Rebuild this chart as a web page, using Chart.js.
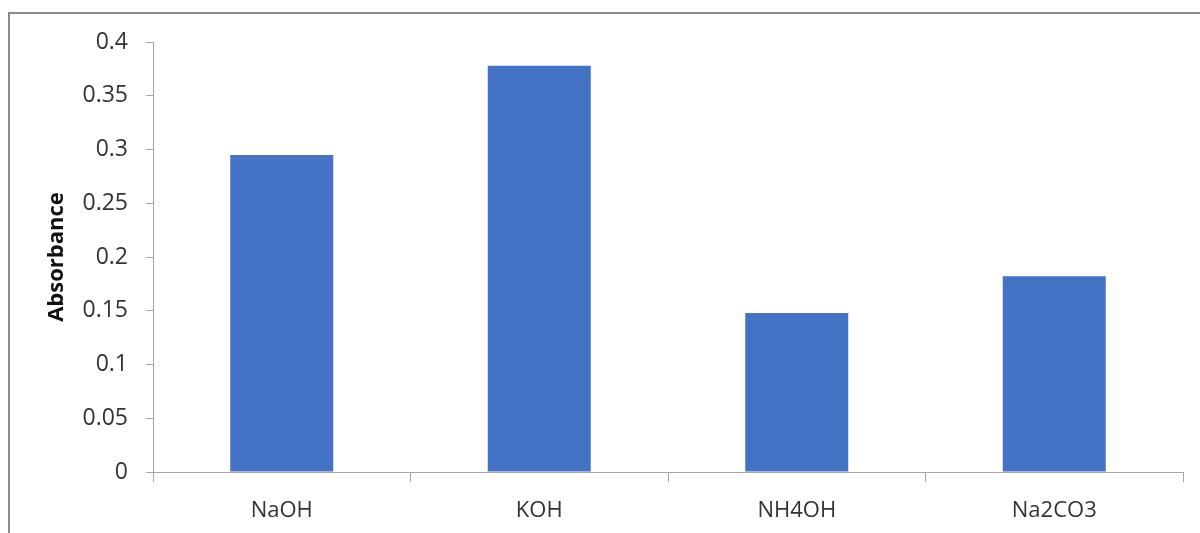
<!DOCTYPE html>
<html>
<head>
<meta charset="utf-8">
<script src="https://cdn.jsdelivr.net/npm/chart.js@4/dist/chart.umd.min.js"></script>
<style>
    html, body { margin: 0; padding: 0; background: #ffffff; }
    #wrap { position: relative; width: 1200px; height: 533px; overflow: hidden; }
    #frame {
        position: absolute; left: 8px; top: 12px; width: 1300px; height: 600px;
        border-left: 2px solid #8c8c8c; border-top: 2px solid #8c8c8c;
    }
    #chart { position: absolute; left: 0; top: 0; }
</style>
</head>
<body>
<div id="wrap">
    <div id="frame"></div>
    <canvas id="chart" width="1200" height="533"></canvas>
</div>
<script>
// Absorbance by base
const categories = ['NaOH', 'KOH', 'NH4OH', 'Na2CO3'];
const absorbance = [0.295, 0.378, 0.148, 0.182];
const yTicks = [0, 0.05, 0.1, 0.15, 0.2, 0.25, 0.3, 0.35, 0.4];

const BAR_COLOR = '#4472c4';
const AXIS_COLOR = '#a6a6a6';
const TEXT_COLOR = '#333333';
const FONT = "'Open Sans', sans-serif";

const ctx = document.getElementById('chart').getContext('2d');

new Chart(ctx, {
    type: 'bar',
    data: {
        labels: categories,
        datasets: [{
            label: 'Absorbance',
            data: absorbance,
            backgroundColor: BAR_COLOR,
            borderWidth: 0,
            categoryPercentage: 1,
            barPercentage: 0.4
        }]
    },
    options: {
        responsive: false,
        animation: false,
        devicePixelRatio: 1,
        layout: {
            padding: { left: 44, right: 17, top: 42, bottom: 0 }
        },
        plugins: {
            legend: { display: false },
            tooltip: { enabled: false }
        },
        scales: {
            x: {
                grid: {
                    display: true,
                    offset: true,
                    drawOnChartArea: false,
                    tickLength: 10,
                    color: AXIS_COLOR
                },
                border: { color: AXIS_COLOR, width: 1 },
                ticks: {
                    color: TEXT_COLOR,
                    padding: 16,
                    maxRotation: 0,
                    font: { family: FONT, size: 22 }
                },
                afterFit: function(scale) {
                    scale.height = 61;
                }
            },
            y: {
                min: 0,
                max: 0.4,
                grid: {
                    display: true,
                    drawOnChartArea: false,
                    tickLength: 7,
                    color: AXIS_COLOR
                },
                border: { color: AXIS_COLOR, width: 1 },
                afterBuildTicks: function(scale) {
                    scale.ticks = yTicks.map(v => ({ value: v }));
                },
                ticks: {
                    color: TEXT_COLOR,
                    padding: 18,
                    font: { family: FONT, size: 23 },
                    callback: function(value) {
                        return String(Math.round(value * 100) / 100);
                    }
                },
                title: {
                    display: true,
                    text: 'Absorbance',
                    color: '#111111',
                    padding: 0,
                    font: { family: FONT, size: 22, weight: 'bold' }
                },
                afterFit: function(scale) {
                    scale.width = 109;
                }
            }
        }
    }
});
</script>
</body>
</html>
